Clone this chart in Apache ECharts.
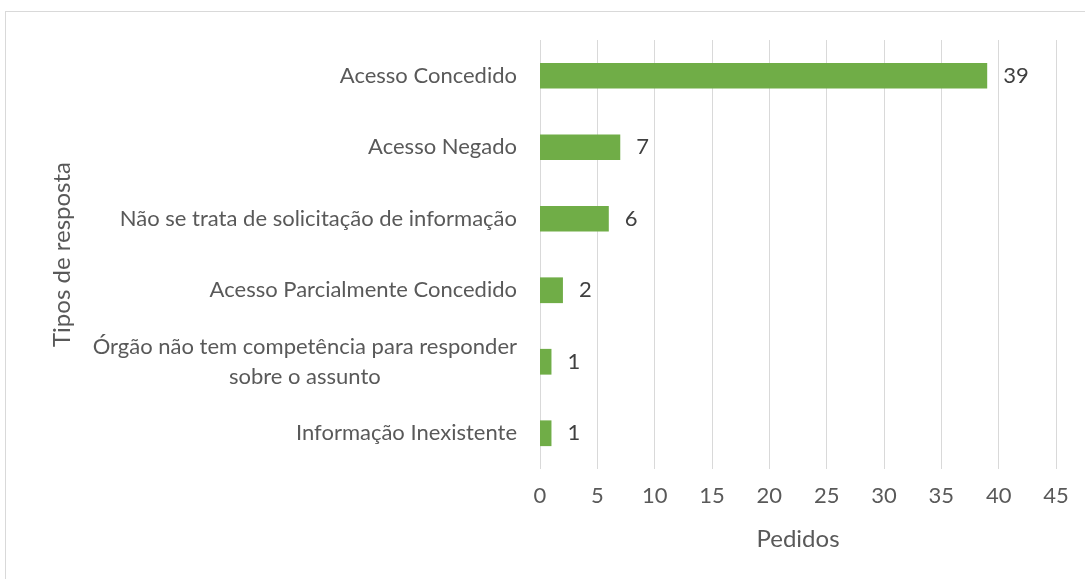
<!DOCTYPE html>
<html>
<head>
<meta charset="utf-8">
<script src="https://cdn.jsdelivr.net/npm/echarts@6/dist/echarts.min.js"></script>
<style>
  html, body { margin: 0; padding: 0; background: #fff; }
  #frame { position: absolute; left: 5px; top: 11px; width: 1090px; height: 580px; border: 1px solid #d9d9d9; box-sizing: border-box; }
  #main { position: absolute; left: 0; top: 0; width: 1085px; height: 579px; }
</style>
</head>
<body>
<div id="frame"></div>
<div id="main"></div>
<script>
// categories from bottom to top (category axis draws first item at the bottom)
var categorias = [
  'Informação Inexistente',
  'Órgão não tem competência para responder\nsobre o assunto',
  'Acesso Parcialmente Concedido',
  'Não se trata de solicitação de informação',
  'Acesso Negado',
  'Acesso Concedido'
]
var pedidos = [1, 1, 2, 6, 7, 39]
var eixoX = { min: 0, max: 45, interval: 5 }

var fonte = 'Lato, "Open Sans", sans-serif'
var cinza = '#595959'

var myChart = echarts.init(document.getElementById('main'))

var option = {
  animation: false,
  textStyle: { fontFamily: fonte },
  grid: {
    left: 540,
    right: 29,
    top: 40,
    bottom: 110
  },
  xAxis: {
    type: 'value',
    min: eixoX.min,
    max: eixoX.max,
    interval: eixoX.interval,
    name: 'Pedidos',
    nameLocation: 'middle',
    nameGap: 58,
    nameTextStyle: { color: cinza, fontSize: 24, fontFamily: fonte },
    axisLine: { show: false },
    axisTick: { show: false },
    axisLabel: { color: cinza, fontSize: 22, margin: 16, fontFamily: fonte },
    splitLine: { show: true, lineStyle: { color: '#d9d9d9', width: 1 } }
  },
  yAxis: {
    type: 'category',
    data: categorias,
    name: 'Tipos de resposta',
    nameLocation: 'middle',
    nameRotate: 90,
    nameGap: 466,
    nameTextStyle: { color: cinza, fontSize: 24, fontFamily: fonte },
    axisLine: { show: false },
    axisTick: { show: false },
    axisLabel: {
      color: cinza,
      fontSize: 22,
      margin: 23,
      fontFamily: fonte,
      lineHeight: 30,
      formatter: function (v) {
        if (v.indexOf('\n') >= 0) {
          return v.split('\n').map(function (l) { return '{c|' + l + '}' }).join('\n')
        }
        return v
      },
      rich: {
        c: { align: 'center', color: cinza, fontSize: 22, lineHeight: 30, fontFamily: fonte }
      }
    }
  },
  series: [
    {
      type: 'bar',
      data: pedidos,
      barWidth: '36%',
      itemStyle: { color: '#70ad47' },
      label: {
        show: true,
        position: 'right',
        distance: 16,
        color: '#404040',
        fontSize: 22,
        fontFamily: fonte
      }
    }
  ]
}

myChart.setOption(option)
</script>
</body>
</html>
